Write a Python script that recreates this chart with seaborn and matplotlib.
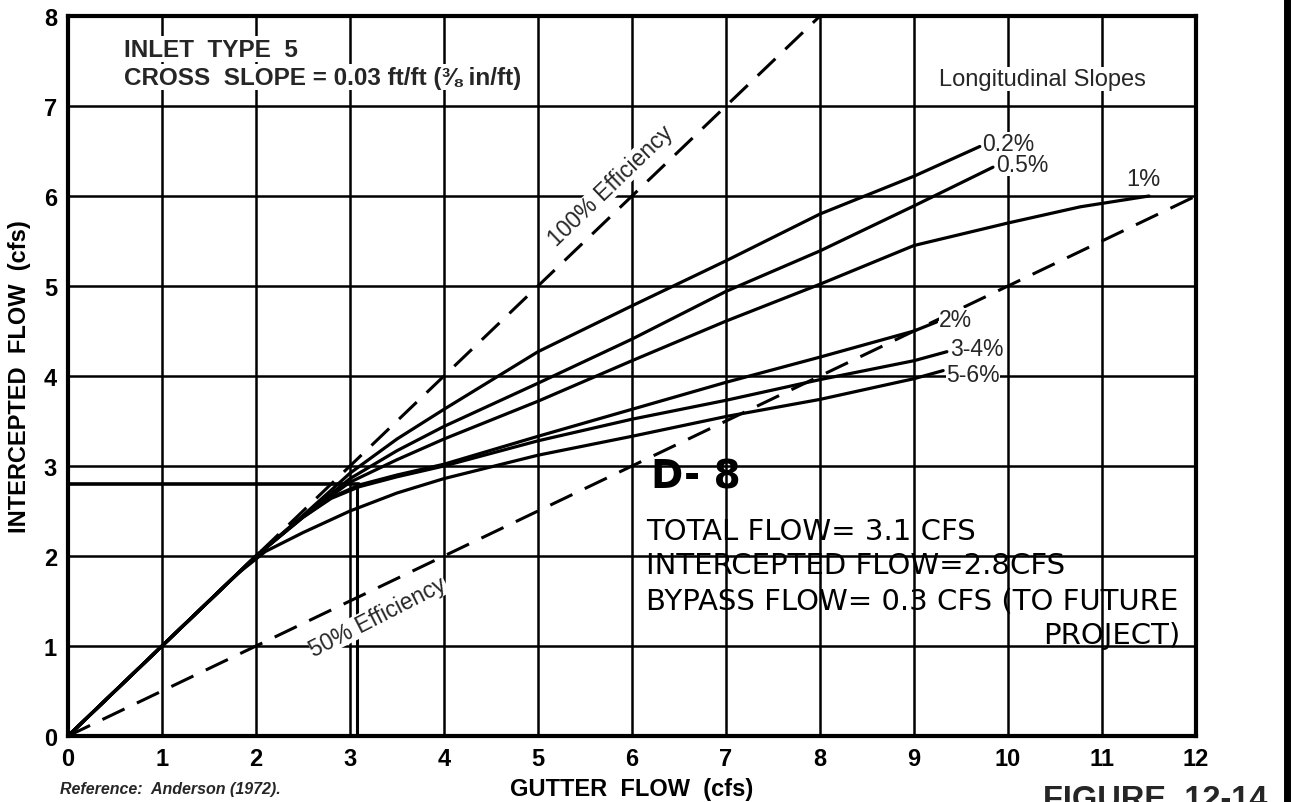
import pandas as pd
import seaborn as sns
import matplotlib.pyplot as plt
from matplotlib.lines import Line2D

# Curvas: caudal de cuneta (cfs) -> caudal interceptado (cfs)
slope_labels = ['0.2%', '0.5%', '1%', '2%', '3-4%', '5-6%']

x_02 = [0, 1, 2, 2.5, 3, 3.5, 4, 5, 6, 7, 8, 9, 9.7]
y_02 = [0, 1, 2, 2.45, 2.92, 3.3, 3.63, 4.27, 4.78, 5.28, 5.8, 6.22, 6.55]

x_05 = [0, 1, 2, 2.5, 3, 3.5, 4, 5, 6, 7, 8, 9, 9.84]
y_05 = [0, 1, 2, 2.44, 2.86, 3.17, 3.44, 3.92, 4.41, 4.94, 5.39, 5.89, 6.32]

x_1 = [0, 1, 2, 2.5, 3, 3.5, 4, 5, 6, 7, 8, 9, 10, 10.77, 11.5]
y_1 = [0, 1, 2, 2.44, 2.82, 3.07, 3.30, 3.72, 4.17, 4.61, 5.02, 5.45, 5.70, 5.88, 6.0]

x_2 = [0, 1, 2, 2.5, 2.8, 3.1, 3.5, 4, 5, 6, 7, 8, 9, 9.24]
y_2 = [0, 1, 2, 2.43, 2.65, 2.79, 2.9, 3.02, 3.33, 3.63, 3.93, 4.21, 4.5, 4.6]

x_34 = [0, 1, 2, 2.5, 2.8, 3.1, 3.5, 4, 5, 6, 7, 8, 9, 9.35]
y_34 = [0, 1, 2, 2.43, 2.64, 2.77, 2.88, 3.0, 3.28, 3.52, 3.73, 3.96, 4.17, 4.27]

x_56 = [0, 1, 1.8, 2.1, 2.5, 3, 3.5, 4, 5, 6, 7, 8, 9, 9.31]
y_56 = [0, 1, 1.8, 2.05, 2.26, 2.5, 2.7, 2.86, 3.12, 3.33, 3.55, 3.74, 3.97, 4.06]

# Lineas de eficiencia (discontinuas)
eff100_x = [0, 8]
eff100_y = [0, 8]
eff50_x = [0, 12]
eff50_y = [0, 6]

# Lectura a mano (D-8)
total_flow = 3.1
intercepted_flow = 2.8

curves = [(x_02, y_02), (x_05, y_05), (x_1, y_1), (x_2, y_2), (x_34, y_34), (x_56, y_56)]
df = pd.concat([pd.DataFrame({'gutter': xs, 'intercepted': ys, 'slope': lab})
                for lab, (xs, ys) in zip(slope_labels, curves)], ignore_index=True)

sns.set_theme(style='white')
plt.rcParams['font.family'] = ['Liberation Sans', 'DejaVu Sans']

fig, ax = plt.subplots(figsize=(12.91, 8.03), dpi=100)
fig.subplots_adjust(left=68/1291, right=1196/1291, bottom=1-737/803, top=1-17/803)

sns.lineplot(data=df, x='gutter', y='intercepted', hue='slope', units='slope',
             estimator=None, sort=False, palette={s: 'black' for s in slope_labels},
             linewidth=2.3, legend=False, ax=ax)

sns.lineplot(x=eff100_x, y=eff100_y, color='black', linewidth=2.2, ax=ax)
sns.lineplot(x=eff50_x, y=eff50_y, color='black', linewidth=2.2, ax=ax)
for ln in ax.lines[-2:]:
    ln.set_dashes((8, 4.5))

# lineas a mano
ax.plot([0, total_flow], [intercepted_flow, intercepted_flow], color='black', lw=2.6)
ax.plot([total_flow - 0.03, total_flow - 0.03], [0, intercepted_flow], color='black', lw=2.2)

ax.set_xlim(0, 12)
ax.set_ylim(0, 8)
ax.set_xticks(range(0, 13))
ax.set_yticks(range(0, 9))
ax.grid(True, color='black', linewidth=1.8)
ax.set_axisbelow(True)
for sp in ax.spines.values():
    sp.set_color('black')
    sp.set_linewidth(3)
ax.tick_params(length=0, labelsize=17, pad=8, colors='black')
for t in ax.get_xticklabels() + ax.get_yticklabels():
    t.set_fontweight('bold')

ax.set_xlabel('GUTTER  FLOW  (cfs)', fontsize=17, fontweight='bold', labelpad=5, color='black')
ax.set_ylabel('INTERCEPTED  FLOW  (cfs)', fontsize=17, fontweight='bold', labelpad=9, color='black')

white = dict(facecolor='white', edgecolor='none', pad=1)

ax.text(0.6, 7.63, 'INLET  TYPE  5', fontsize=17.5, fontweight='bold', va='center', bbox=white)
ax.text(0.6, 7.32, 'CROSS  SLOPE = 0.03 ft/ft (⅜ in/ft)', fontsize=17.5, fontweight='bold',
        va='center', bbox=white)
ax.text(10.37, 7.3, 'Longitudinal Slopes', fontsize=17, ha='center', va='center', bbox=white)

ax.text(5.78, 6.12, '100% Efficiency', fontsize=16.5, rotation=43.8, ha='center', va='center',
        bbox=dict(facecolor='white', edgecolor='none', pad=0))
ax.text(3.3, 1.33, '50% Efficiency', fontsize=16.5, rotation=27, ha='center', va='center',
        bbox=dict(facecolor='white', edgecolor='none', pad=0))

label_offsets = {'0.2%': (2, 2), '0.5%': (2, 2), '2%': (2, 2), '3-4%': (2, 2), '5-6%': (2, -3)}
for lab, (xs, ys) in zip(slope_labels, curves):
    if lab == '1%':
        ax.annotate(lab, (xs[-1], ys[-1]), xytext=(-4, 4), textcoords='offset points',
                    fontsize=17, ha='center', va='bottom')
    else:
        ax.annotate(lab, (xs[-1], ys[-1]), xytext=label_offsets[lab], textcoords='offset points',
                    fontsize=16.5, ha='left', va='center',
                    bbox=dict(facecolor='white', edgecolor='none', pad=0))

# anotacion manuscrita
hand = dict(family=['DejaVu Sans'], color='black')
ax.text(6.2, 2.88, 'D- 8', fontsize=28, fontweight='bold', va='center', **hand)
ax.text(6.15, 2.28, 'TOTAL FLOW= 3.1 CFS', fontsize=21, va='center', **hand)
ax.text(6.15, 1.9, 'INTERCEPTED FLOW=2.8CFS', fontsize=21, va='center', **hand)
ax.text(6.15, 1.51, 'BYPASS FLOW= 0.3 CFS (TO FUTURE', fontsize=21, va='center', **hand)
ax.text(10.37, 1.12, 'PROJECT)', fontsize=21, va='center', **hand)

fig.text(60/1291, 1-790/803, 'Reference:  Anderson (1972).', fontsize=11.5, fontweight='bold',
         fontstyle='italic', va='center')
fig.text(1043/1291, 1-785/803, 'FIGURE  12-14', fontsize=23.5, fontweight='bold', va='top')
fig.add_artist(Line2D([1287/1291, 1287/1291], [0, 1], color='black', lw=5,
                      transform=fig.transFigure))

plt.savefig('out.png', dpi=100)
